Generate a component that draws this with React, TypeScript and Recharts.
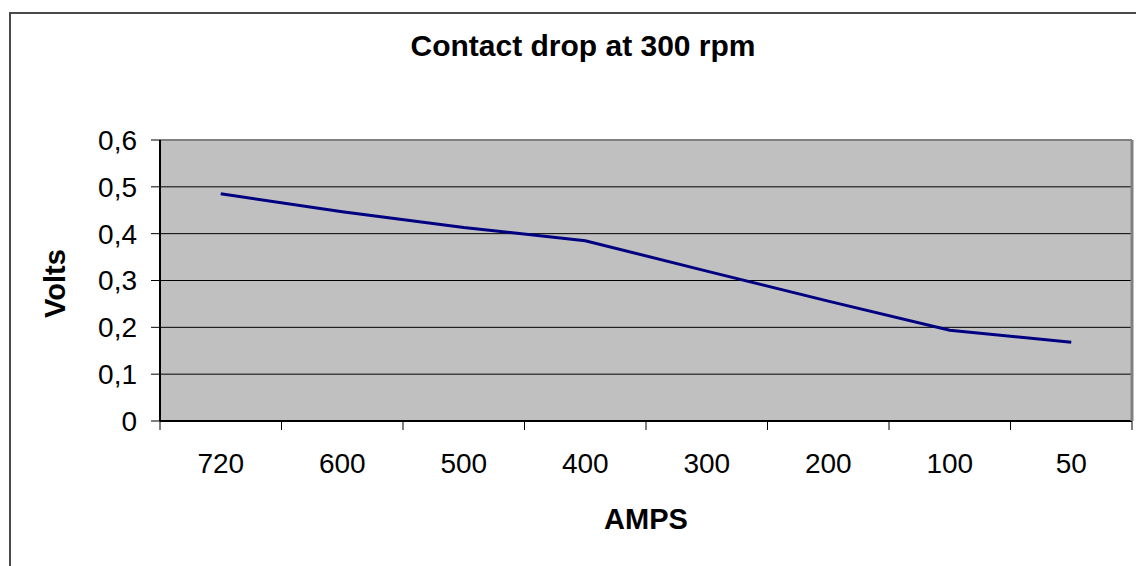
import React from 'react';
import { LineChart, Line, XAxis, YAxis, CartesianGrid, Label } from 'recharts';

const categories = ['720', '600', '500', '400', '300', '200', '100', '50'];
const volts = [0.485, 0.447, 0.413, 0.385, 0.32, 0.256, 0.194, 0.168];
const yTicks = [0, 0.1, 0.2, 0.3, 0.4, 0.5, 0.6];
const title = 'Contact drop at 300 rpm';
const xTitle = 'AMPS';
const yTitle = 'Volts';

const data = categories.map((c, i) => ({ amps: c, volts: volts[i] }));

const FONT = "Arial, 'Liberation Sans', sans-serif";
const X_TICK_SIZE = 9;
const X_LABEL_GAP = 32;

const CategoryTick = (props: any) => {
  const { x, y, payload, index } = props;
  const half = payload && typeof payload.offset === 'number' ? payload.offset : 0;
  const axisY = y - X_LABEL_GAP;
  const isLast = index === categories.length - 1;
  return (
    <g>
      {half > 0 && (
        <line x1={x - half} x2={x - half} y1={axisY} y2={axisY + X_TICK_SIZE} stroke="#000" strokeWidth={1} />
      )}
      {half > 0 && isLast && (
        <line x1={x + half} x2={x + half} y1={axisY} y2={axisY + X_TICK_SIZE} stroke="#000" strokeWidth={1} />
      )}
      <text x={x} y={y} dy="0.71em" textAnchor="middle" fontSize={28} fontFamily={FONT} fill="#000">
        {payload.value}
      </text>
    </g>
  );
};

export default function App() {
  return (
    <div style={{ position: 'relative', width: 1136, height: 558, overflow: 'hidden', background: '#fff' }}>
      <div
        style={{
          position: 'absolute',
          left: 1,
          top: 4,
          width: 1300,
          height: 1000,
          borderTop: '2px solid #4a4a4a',
          borderLeft: '2px solid #4a4a4a',
        }}
      />
      <LineChart
        width={1136}
        height={558}
        data={data}
        margin={{ top: 0, right: 0, left: 0, bottom: 0 }}
        style={{ position: 'absolute', left: 0, top: 0 }}
      >
        <CartesianGrid
          xAxisId="axisB"
          yAxisId="left"
          vertical={false}
          fill="#C0C0C0"
          fillOpacity={1}
          stroke="#000"
          strokeWidth={1}
        />
        <XAxis
          xAxisId="axisB"
          dataKey="amps"
          type="category"
          scale="band"
          height={145}
          axisLine={{ stroke: '#000', strokeWidth: 2 }}
          tickLine={false}
          tickSize={8}
          tickMargin={24}
          tick={<CategoryTick />}
          interval={0}
        >
          <Label
            content={({ viewBox }: any) => (
              <text
                x={viewBox.x + viewBox.width / 2}
                y={viewBox.y + 108}
                textAnchor="middle"
                fontSize={29}
                fontWeight="bold"
                fontFamily={FONT}
                fill="#000"
              >
                {xTitle}
              </text>
            )}
          />
        </XAxis>
        <XAxis
          xAxisId="axisC"
          dataKey="amps"
          orientation="top"
          height={132}
          axisLine={{ stroke: '#808080', strokeWidth: 2 }}
          tickLine={false}
          tick={() => <g />}
        >
          <Label
            content={({ viewBox }: any) => (
              <text
                x={viewBox.x + 423}
                y={48}
                textAnchor="middle"
                fontSize={30}
                fontWeight="bold"
                fontFamily={FONT}
                fill="#000"
              >
                {title}
              </text>
            )}
          />
        </XAxis>
        <YAxis
          yAxisId="left"
          width={152}
          domain={[0, 0.6]}
          ticks={yTicks}
          allowDataOverflow
          axisLine={{ stroke: '#000', strokeWidth: 2 }}
          tickLine={{ stroke: '#000', strokeWidth: 1 }}
          tickSize={9}
          tickMargin={14}
          tickFormatter={(v: number) => String(Math.round(v * 10) / 10).replace('.', ',')}
          tick={{ fill: '#000', fontSize: 28, fontFamily: FONT }}
        >
          <Label
            content={({ viewBox }: any) => {
              const cx = 47;
              const cy = viewBox.y + viewBox.height / 2 + 3;
              return (
                <text
                  x={cx}
                  y={cy}
                  transform={`rotate(-90 ${cx} ${cy})`}
                  textAnchor="middle"
                  dominantBaseline="central"
                  fontSize={29}
                  fontWeight="bold"
                  fontFamily={FONT}
                  fill="#000"
                >
                  {yTitle}
                </text>
              );
            }}
          />
        </YAxis>
        <YAxis
          yAxisId="right"
          orientation="right"
          width={12}
          domain={[0, 0.6]}
          allowDataOverflow
          axisLine={{ stroke: '#808080', strokeWidth: 3 }}
          tickLine={false}
          tick={() => <g />}
        />
        <Line
          xAxisId="axisB"
          yAxisId="left"
          type="linear"
          dataKey="volts"
          stroke="#000080"
          strokeWidth={3}
          dot={false}
          isAnimationActive={false}
        />
      </LineChart>
    </div>
  );
}
